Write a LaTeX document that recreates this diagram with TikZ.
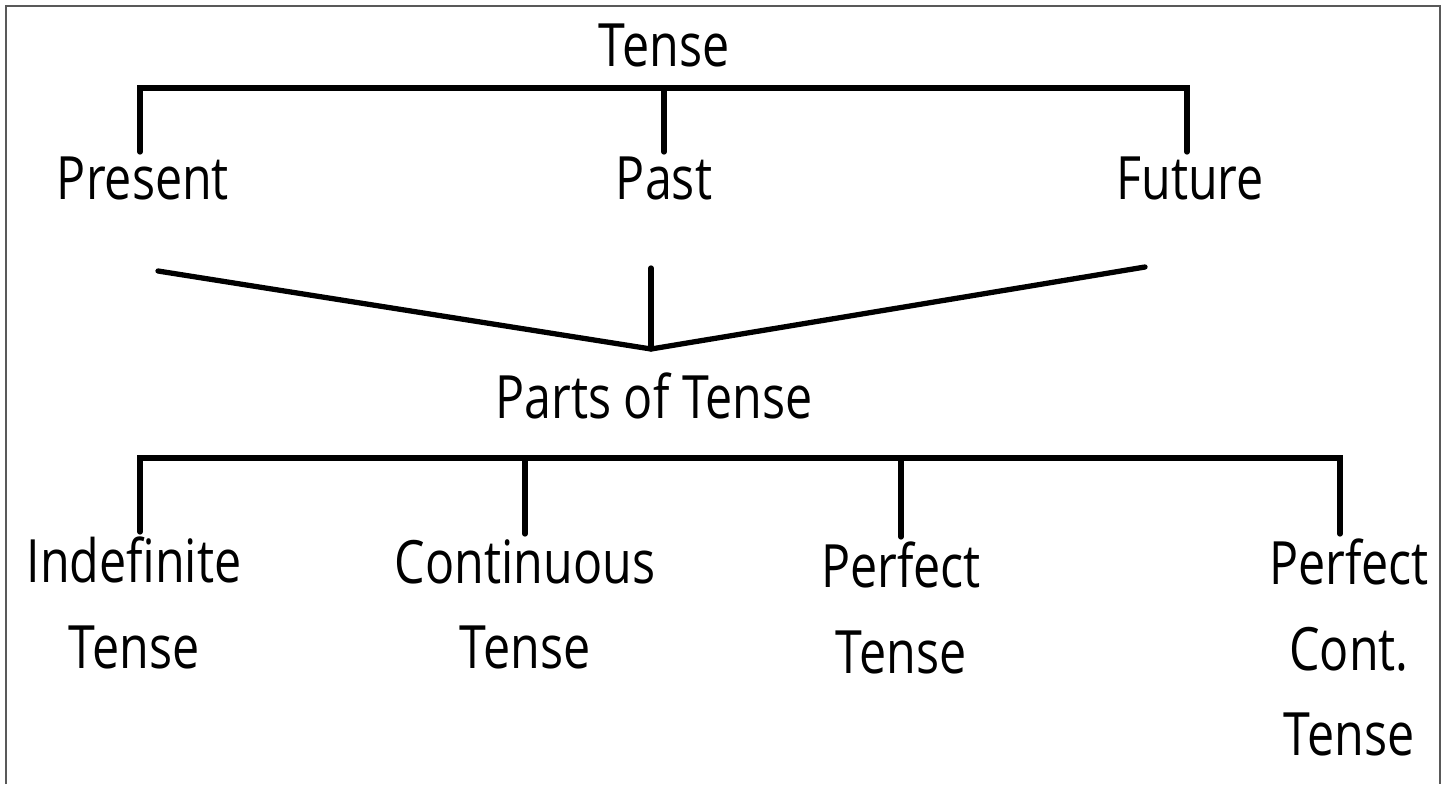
\documentclass[tikz,border=0pt]{standalone}
\usepackage{fontspec}
\setmainfont[FakeStretch=0.81]{Open Sans}
\begin{document}
\begin{tikzpicture}[x=0.02cm,y=-0.02cm,
  branch/.style={line width=3pt, line join=miter, line cap=round},
  word/.style={inner sep=0pt, outer sep=3pt, align=center, font=\fontsize{34}{48.5}\selectfont}]
\useasboundingbox (0,0) rectangle (1449,784);
%\draw [lightgray](0,0) grid (1449,784);
\draw [gray!70!black, line width=0.8pt] (6,784) -- (6,6) -- (1440,6) -- (1440,784);

% first level
\node [word, anchor=base] (tense) at (664,67) {Tense};
\node [word, anchor=north] (present) at (143,152) {Present};
\node [word, anchor=north] (past) at (664,152) {Past};
\node [word, anchor=north] (future) at (1190,152) {Future};
\coordinate (tbar) at (664,88);
\draw [branch] ([xshift=-0.06cm]present.north) |- (tbar) -| ([xshift=-0.06cm]future.north);
\draw [branch] (tbar) -- (past.north);

% the V
\coordinate (vleft) at (158,271);
\coordinate (vright) at (1145,267);
\coordinate (vstem) at (651,268);
\coordinate (vtip) at (651,349);
\draw [branch] (vleft) -- (vtip) -- (vright);
\draw [branch] (vstem) -- (vtip);
\node [word, anchor=base] (parts) at (654,418) {Parts of Tense};

% second level
\coordinate (bbar) at (654,458);
\node [word, anchor=north] (indef) at (134,532) {Indefinite\\Tense};
\node [word, anchor=north] (cont) at (525,534) {Continuous\\Tense};
\node [word, anchor=north] (perf) at (901,537) {Perfect\\Tense};
\node [word, anchor=north] (perfcont) at (1349,534) {Perfect\\Cont.\\Tense};
\draw [branch] ([xshift=0.12cm]indef.north) |- (bbar) -| ([xshift=-0.18cm]perfcont.north);
\draw [branch] (cont.north) -- (cont.north |- bbar);
\draw [branch] (perf.north) -- (perf.north |- bbar);
\end{tikzpicture}
\end{document}
